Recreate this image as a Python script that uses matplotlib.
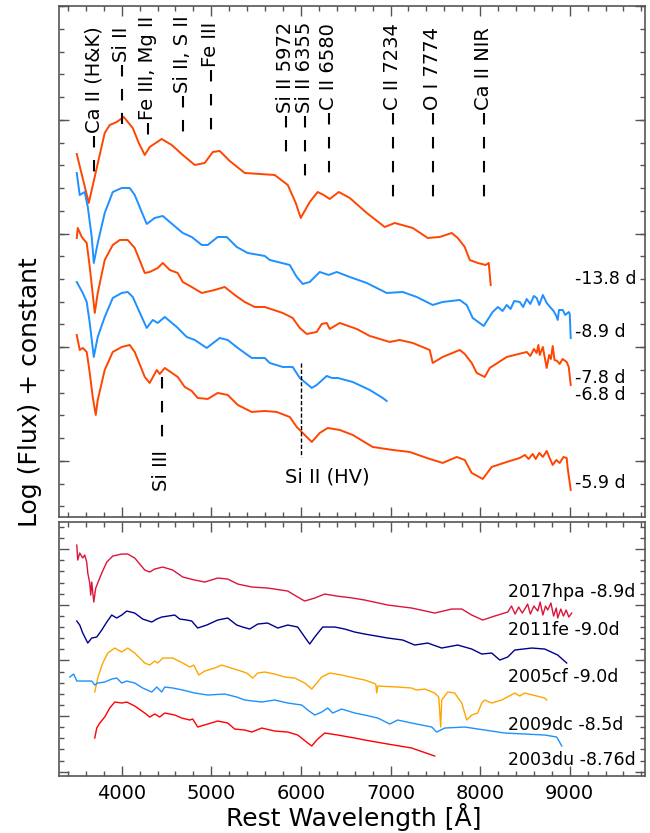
import matplotlib.pyplot as plt
from matplotlib.ticker import MultipleLocator

# ---- upper panel: SN 2017hpa early spectra (log flux + offset) ----
wave_m138 = [3498, 3632, 3810, 3866, 3944, 4022, 4123, 4190, 4257, 4312, 4446, 4558, 4681, 4815,
             4926, 5016, 5094, 5205, 5373, 5540, 5707, 5853, 5942, 5998, 6098, 6187, 6254, 6321,
             6422, 6545, 6735, 6935, 7047, 7248, 7415, 7549, 7683, 7750, 7828, 7884, 7973, 8062,
             8096, 8118]
flux_m138 = [3.63, 3.14, 3.84, 3.92, 3.95, 4.00, 3.89, 3.74, 3.62, 3.70, 3.78, 3.72, 3.62, 3.52,
             3.54, 3.65, 3.66, 3.56, 3.44, 3.43, 3.42, 3.32, 3.14, 2.99, 3.15, 3.25, 3.22, 3.18,
             3.25, 3.19, 3.04, 2.90, 2.94, 2.89, 2.79, 2.80, 2.84, 2.79, 2.70, 2.57, 2.54, 2.52,
             2.54, 2.32]

wave_m89 = [3498, 3531, 3587, 3621, 3665, 3688, 3732, 3810, 3900, 4000, 4089, 4145, 4223, 4279,
            4368, 4458, 4536, 4681, 4781, 4893, 4960, 5071, 5172, 5283, 5406, 5596, 5652, 5875,
            5953, 6020, 6098, 6210, 6310, 6399, 6545, 6734, 6957, 7136, 7292, 7471, 7582, 7772,
            7850, 7917, 8040, 8140, 8200, 8250, 8297, 8340, 8380, 8442, 8480, 8520, 8560, 8600,
            8631, 8660, 8700, 8743, 8780, 8820, 8850, 8866, 8880, 8922, 8950, 8989, 9000, 9011]
flux_m89 = [3.44, 3.22, 3.25, 3.10, 2.80, 2.54, 2.74, 3.04, 3.25, 3.29, 3.29, 3.22, 3.05, 2.93,
            2.99, 3.01, 2.95, 2.84, 2.80, 2.72, 2.72, 2.80, 2.80, 2.70, 2.64, 2.61, 2.57, 2.52,
            2.40, 2.33, 2.35, 2.45, 2.42, 2.45, 2.40, 2.34, 2.24, 2.25, 2.20, 2.12, 2.15, 2.17,
            2.12, 1.99, 1.91, 2.05, 2.10, 2.06, 2.12, 2.08, 2.16, 2.15, 2.10, 2.18, 2.13, 2.21,
            2.19, 2.12, 2.22, 2.14, 2.10, 2.06, 2.01, 1.97, 2.07, 2.07, 2.02, 2.05, 2.03, 1.79]

wave_m78 = [3498, 3509, 3554, 3609, 3643, 3699, 3732, 3810, 3900, 3978, 4067, 4145, 4257, 4312,
            4402, 4458, 4536, 4625, 4681, 4781, 4893, 5038, 5149, 5261, 5373, 5484, 5596, 5797,
            5908, 5987, 6065, 6176, 6232, 6288, 6321, 6433, 6623, 6768, 6991, 7102, 7248, 7437,
            7471, 7582, 7772, 7828, 7906, 7962, 8051, 8107, 8297, 8520, 8560, 8600, 8631, 8650,
            8665, 8700, 8720, 8743, 8770, 8790, 8810, 8830, 8860, 8888, 8920, 8966, 8989, 9011]
flux_m78 = [2.79, 2.89, 2.80, 2.74, 2.50, 2.04, 2.24, 2.57, 2.72, 2.77, 2.77, 2.69, 2.44, 2.45,
            2.49, 2.54, 2.47, 2.44, 2.35, 2.30, 2.24, 2.27, 2.30, 2.22, 2.15, 2.10, 2.10, 2.04,
            1.99, 1.89, 1.83, 1.85, 1.93, 1.94, 1.88, 1.94, 1.88, 1.81, 1.75, 1.77, 1.74, 1.67,
            1.54, 1.60, 1.67, 1.63, 1.54, 1.44, 1.40, 1.49, 1.60, 1.65, 1.61, 1.68, 1.64, 1.72,
            1.62, 1.70, 1.60, 1.49, 1.62, 1.58, 1.71, 1.57, 1.56, 1.53, 1.58, 1.55, 1.50, 1.32]

wave_m68 = [3498, 3565, 3609, 3643, 3688, 3732, 3810, 3900, 4000, 4067, 4123, 4223, 4279, 4346,
            4402, 4480, 4614, 4725, 4815, 4949, 5094, 5183, 5295, 5451, 5596, 5652, 5797, 5908,
            5987, 6121, 6176, 6288, 6344, 6411, 6578, 6768, 6913, 6957]
flux_m68 = [2.35, 2.24, 2.15, 1.94, 1.60, 1.80, 2.00, 2.19, 2.24, 2.25, 2.20, 2.00, 1.89, 1.97,
            1.94, 2.00, 1.90, 1.80, 1.77, 1.69, 1.79, 1.77, 1.69, 1.59, 1.59, 1.54, 1.50, 1.50,
            1.39, 1.29, 1.32, 1.41, 1.39, 1.39, 1.35, 1.27, 1.19, 1.16]

wave_m59 = [3498, 3531, 3565, 3609, 3643, 3676, 3710, 3732, 3810, 3900, 4000, 4089, 4145, 4257,
            4312, 4391, 4424, 4480, 4625, 4703, 4781, 4848, 4960, 5071, 5183, 5295, 5451, 5596,
            5730, 5875, 5953, 6121, 6210, 6299, 6433, 6578, 6801, 7024, 7214, 7404, 7582, 7739,
            7828, 7906, 8029, 8129, 8297, 8442, 8500, 8540, 8587, 8620, 8660, 8700, 8743, 8780,
            8810, 8850, 8888, 8930, 8966, 8977, 9011]
flux_m59 = [1.82, 1.67, 1.69, 1.65, 1.44, 1.20, 1.02, 1.17, 1.47, 1.65, 1.70, 1.72, 1.65, 1.40,
            1.34, 1.47, 1.43, 1.49, 1.40, 1.30, 1.26, 1.19, 1.18, 1.24, 1.22, 1.12, 1.05, 1.06,
            1.05, 1.00, 0.90, 0.75, 0.84, 0.89, 0.87, 0.82, 0.70, 0.67, 0.65, 0.59, 0.54, 0.60,
            0.57, 0.44, 0.38, 0.50, 0.55, 0.59, 0.62, 0.58, 0.63, 0.58, 0.64, 0.60, 0.66, 0.58,
            0.52, 0.57, 0.54, 0.60, 0.59, 0.49, 0.27]

top_waves = [wave_m138, wave_m89, wave_m78, wave_m68, wave_m59]
top_fluxes = [flux_m138, flux_m89, flux_m78, flux_m68, flux_m59]
top_phases = ['-13.8 d', '-8.9 d', '-7.8 d', '-6.8 d', '-5.9 d']
top_colors = ['#FF4500', '#1E90FF', '#FF4500', '#1E90FF', '#FF4500']

# ---- lower panel: comparison SNe Ia near -9 d ----
wave_17hpa = [3498, 3509, 3531, 3565, 3587, 3609, 3621, 3643, 3654, 3665, 3688, 3710, 3732, 3777,
              3833, 3900, 4000, 4067, 4145, 4257, 4312, 4368, 4458, 4569, 4681, 4815, 4926, 5071,
              5183, 5295, 5451, 5629, 5853, 5964, 6042, 6154, 6265, 6399, 6578, 6712, 6969, 7236,
              7493, 7683, 7795, 7906, 8029, 8163, 8308, 8350, 8390, 8430, 8470, 8498, 8530, 8560,
              8600, 8643, 8670, 8700, 8730, 8754, 8790, 8820, 8850, 8866, 8900, 8930, 8960, 8990,
              9022]
flux_17hpa = [2.31, 2.16, 2.23, 2.18, 2.21, 2.14, 2.03, 1.93, 1.81, 1.94, 1.74, 1.88, 1.93, 2.03,
              2.14, 2.20, 2.22, 2.22, 2.18, 2.06, 2.04, 2.07, 2.09, 2.06, 1.99, 1.96, 1.94, 1.98,
              1.97, 1.92, 1.89, 1.88, 1.85, 1.79, 1.75, 1.78, 1.82, 1.80, 1.78, 1.76, 1.71, 1.68,
              1.63, 1.67, 1.67, 1.61, 1.56, 1.60, 1.64, 1.70, 1.62, 1.69, 1.63, 1.67, 1.72, 1.62,
              1.70, 1.65, 1.74, 1.61, 1.70, 1.66, 1.73, 1.60, 1.68, 1.58, 1.67, 1.60, 1.66, 1.59,
              1.63]

wave_11fe = [3498, 3531, 3565, 3621, 3665, 3721, 3777, 3833, 3888, 3944, 4000, 4056, 4145, 4234,
             4335, 4391, 4446, 4592, 4647, 4725, 4781, 4848, 4949, 5071, 5183, 5283, 5350, 5429,
             5518, 5629, 5741, 5853, 5964, 6042, 6098, 6154, 6243, 6377, 6489, 6600, 6712, 6969,
             7136, 7270, 7415, 7571, 7750, 7906, 8018, 8129, 8219, 8308, 8386, 8576, 8721, 8866,
             8966]
flux_11fe = [1.55, 1.51, 1.43, 1.33, 1.38, 1.39, 1.46, 1.54, 1.61, 1.58, 1.61, 1.65, 1.63, 1.57,
             1.54, 1.57, 1.59, 1.61, 1.57, 1.56, 1.55, 1.48, 1.51, 1.56, 1.58, 1.51, 1.49, 1.47,
             1.52, 1.53, 1.48, 1.51, 1.49, 1.39, 1.32, 1.39, 1.49, 1.49, 1.47, 1.44, 1.42, 1.38,
             1.36, 1.31, 1.33, 1.28, 1.31, 1.27, 1.22, 1.23, 1.16, 1.19, 1.26, 1.28, 1.27, 1.21,
             1.13]

wave_05cf = [3699, 3732, 3788, 3844, 3922, 4000, 4067, 4145, 4257, 4312, 4368, 4402, 4458, 4569,
             4681, 4759, 4804, 4859, 4926, 5038, 5116, 5183, 5295, 5395, 5462, 5518, 5596, 5707,
             5819, 5931, 6042, 6121, 6176, 6232, 6321, 6455, 6600, 6712, 6835, 6846, 6857, 7080,
             7236, 7292, 7382, 7493, 7538, 7560, 7571, 7638, 7716, 7795, 7850, 7906, 7973, 8018,
             8051, 8129, 8241, 8386, 8442, 8498, 8721, 8743]
flux_05cf = [0.84, 0.98, 1.13, 1.23, 1.28, 1.24, 1.28, 1.23, 1.13, 1.11, 1.15, 1.13, 1.18, 1.18,
             1.13, 1.09, 1.11, 1.01, 1.05, 1.08, 1.11, 1.09, 1.06, 1.03, 0.98, 1.03, 1.04, 1.02,
             0.99, 0.98, 0.93, 0.87, 0.93, 0.99, 1.03, 1.01, 0.98, 0.96, 0.92, 0.83, 0.90, 0.89,
             0.88, 0.86, 0.87, 0.83, 0.79, 0.49, 0.76, 0.84, 0.83, 0.73, 0.56, 0.61, 0.63, 0.73,
             0.76, 0.73, 0.76, 0.83, 0.80, 0.83, 0.78, 0.76]

wave_09dc = [3420, 3464, 3498, 3587, 3665, 3699, 3732, 3810, 3888, 3944, 4000, 4056, 4145, 4234,
             4335, 4391, 4446, 4480, 4569, 4681, 4815, 4960, 5149, 5283, 5373, 5562, 5707, 5853,
             6009, 6076, 6154, 6232, 6299, 6355, 6455, 6600, 6712, 6857, 6991, 7080, 7236, 7460,
             7515, 7605, 7828, 8051, 8274, 8498, 8721, 8855, 8911]
flux_09dc = [0.99, 1.02, 0.95, 0.95, 0.95, 0.91, 0.93, 0.94, 0.97, 0.98, 0.93, 0.95, 0.93, 0.88,
             0.84, 0.89, 0.84, 0.89, 0.88, 0.86, 0.83, 0.81, 0.82, 0.79, 0.76, 0.74, 0.76, 0.73,
             0.71, 0.66, 0.61, 0.64, 0.68, 0.63, 0.67, 0.63, 0.61, 0.58, 0.52, 0.56, 0.53, 0.49,
             0.44, 0.48, 0.49, 0.46, 0.43, 0.42, 0.41, 0.39, 0.30]

wave_03du = [3699, 3721, 3755, 3810, 3866, 3922, 4000, 4056, 4145, 4257, 4312, 4368, 4424, 4480,
             4592, 4670, 4759, 4792, 4848, 4960, 5071, 5183, 5261, 5373, 5451, 5562, 5707, 5853,
             5964, 6076, 6121, 6176, 6265, 6411, 6600, 6712, 6969, 7236, 7493]
flux_03du = [0.38, 0.48, 0.53, 0.59, 0.68, 0.74, 0.73, 0.74, 0.70, 0.63, 0.59, 0.62, 0.59, 0.63,
             0.61, 0.58, 0.56, 0.57, 0.49, 0.52, 0.55, 0.53, 0.47, 0.46, 0.44, 0.48, 0.45, 0.44,
             0.41, 0.33, 0.30, 0.36, 0.43, 0.41, 0.38, 0.36, 0.32, 0.28, 0.20]

bot_waves = [wave_17hpa, wave_11fe, wave_05cf, wave_09dc, wave_03du]
bot_fluxes = [flux_17hpa, flux_11fe, flux_05cf, flux_09dc, flux_03du]
bot_names = ['2017hpa -8.9d', '2011fe -9.0d', '2005cf -9.0d', '2009dc -8.5d', '2003du -8.76d']
bot_colors = ['#DC143C', '#00008B', '#FFA500', '#1E90FF', '#FF0000']

# line identifications
line_names = ['Ca II (H&K)', 'Si II', 'Fe III, Mg II', 'Si II, S II', 'Fe III', 'Si II 5972',
              'Si II 6355', 'C II 6580', 'C II 7234', 'O I 7774', 'Ca II NIR']
line_waves = [3688, 4000, 4290, 4680, 4993, 5830, 6042, 6310, 7024, 7471, 8040]


fig = plt.figure(figsize=(6.5, 8.33), dpi=100)
ax1 = fig.add_axes([0.0908, 0.3794, 0.9015, 0.6134])
ax2 = fig.add_axes([0.0908, 0.0684, 0.9015, 0.3049])

for w, f, c in zip(top_waves, top_fluxes, top_colors):
    ax1.plot(w, f, color=c, lw=1.4)

# text label placement (label bottom, dash bottom) in panel units
label_bottom = [3.84, 4.55, 3.97, 4.24, 4.50, 4.04, 4.04, 4.07, 4.07, 4.07, 4.07]
dash_bottom = [3.40, 3.93, 3.77, 3.80, 3.82, 3.57, 3.34, 3.37, 3.15, 3.15, 3.15]
for name, w, yb, yd in zip(line_names, line_waves, label_bottom, dash_bottom):
    ax1.text(w, yb, name, rotation=90, ha='center', va='bottom', fontsize=14)
    ax1.plot([w, w], [yb - 0.03, yd], color='black', lw=1.5, ls=(0, (5.5, 6)))

ax1.plot([4446, 4446], [1.40, 0.77], color='black', lw=1.5, ls=(0, (5.5, 6)))
ax1.text(4446, 0.67, 'Si III', rotation=90, ha='center', va='top', fontsize=14)
ax1.plot([6000, 6000], [1.54, 0.60], color='black', lw=1.0, ls=(0, (3, 1.5)))
ax1.text(5820, 0.40, 'Si II (HV)', ha='left', va='center', fontsize=14)

phase_y = [2.38, 1.85, 1.39, 1.22, 0.34]
for p, y in zip(top_phases, phase_y):
    ax1.text(9055, y, p, ha='left', va='center', fontsize=12.5)

for w, f, c in zip(bot_waves, bot_fluxes, bot_colors):
    ax2.plot(w, f, color=c, lw=1.0)

name_y = [1.84, 1.46, 0.99, 0.51, 0.16]
for n, y in zip(bot_names, name_y):
    ax2.text(8310, y, n, ha='left', va='center', fontsize=12.5)

ax1.set_ylim(0, 5.11)
ax1.yaxis.set_major_locator(MultipleLocator(1.137, offset=0.56))
ax1.yaxis.set_minor_locator(MultipleLocator(0.2274, offset=0.106))
ax2.set_ylim(0, 2.54)
ax2.yaxis.set_major_locator(MultipleLocator(0.556, offset=0.044))
ax2.yaxis.set_minor_locator(MultipleLocator(0.1112, offset=0.044))

for ax in (ax1, ax2):
    ax.set_xlim(3300, 9840)
    ax.xaxis.set_major_locator(MultipleLocator(1000))
    ax.xaxis.set_minor_locator(MultipleLocator(200))
    ax.tick_params(which='both', direction='in', top=True, right=True,
                   color='#555555', labelleft=False, labelsize=14, pad=6)
    ax.tick_params(which='major', length=7, width=1)
    ax.tick_params(which='minor', length=3.5, width=1)
    for s in ax.spines.values():
        s.set_color('#555555')
        s.set_linewidth(1.2)
ax1.tick_params(labelbottom=False)

fig.text(0.046, 0.529, 'Log (Flux) + constant', rotation=90, ha='center', va='center', fontsize=18)
fig.text(0.545, 0.019, 'Rest Wavelength [Å]', ha='center', va='center', fontsize=18)

fig.savefig('out.png', dpi=100)
